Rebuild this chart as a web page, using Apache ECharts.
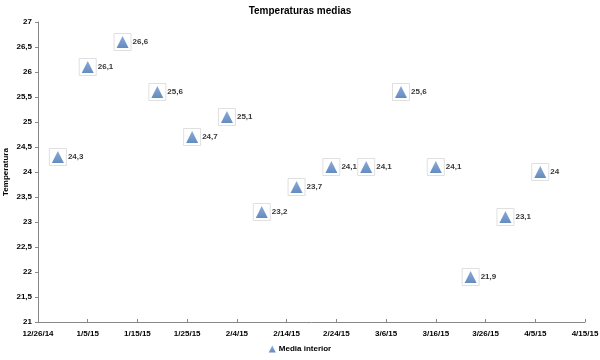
<!DOCTYPE html>
<html>
<head>
<meta charset="utf-8">
<script src="https://cdn.jsdelivr.net/npm/echarts@6/dist/echarts.min.js"></script>
<style>html,body{margin:0;padding:0;background:#fff}#c{width:600px;height:360px}</style>
</head>
<body>
<div id="c"></div>
<script>
const dates = ['2014-12-30','2015-01-05','2015-01-12','2015-01-19','2015-01-26','2015-02-02','2015-02-09','2015-02-16','2015-02-23','2015-03-02','2015-03-09','2015-03-16','2015-03-23','2015-03-30','2015-04-06'];
const values = [24.3,26.1,26.6,25.6,24.7,25.1,23.2,23.7,24.1,24.1,25.6,24.1,21.9,23.1,24.0];
const seriesName = 'Media interior';
const title = 'Temperaturas medias';
const yName = 'Temperatura';
const xMin = '2014-12-26', xMax = '2015-04-15';

const toMs = s => Date.parse(s + 'T00:00:00Z');
const DAY = 86400000;
const pts = dates.map((d, i) => [toMs(d), values[i]]);
const fmtComma = v => String(+v.toFixed(1)).replace('.', ',');
const fmtDate = v => { const d = new Date(v); return (d.getUTCMonth()+1) + '/' + d.getUTCDate() + '/' + String(d.getUTCFullYear()).slice(2); };
const FONT = '"Liberation Sans", Arial, sans-serif';

const chart = echarts.init(document.getElementById('c'));
chart.setOption({
  animation: false,
  backgroundColor: '#fff',
  title: { text: title, left: 'center', top: 1, textStyle: { fontFamily: FONT, fontSize: 10, fontWeight: 'bold', color: '#000' } },
  grid: { left: 38, right: 15, top: 22, bottom: 38, containLabel: false, outerBoundsMode: 'none' },
  legend: {
    bottom: 2, left: 'center', itemWidth: 7, itemHeight: 7, itemGap: 2,
    data: [{ name: seriesName, icon: 'triangle' }],
    textStyle: { fontFamily: FONT, fontSize: 8, fontWeight: 'bold', color: '#000', padding: [0,0,0,-2] }
  },
  xAxis: {
    type: 'value', min: toMs(xMin), max: toMs(xMax), interval: 10 * DAY,
    splitLine: { show: false },
    axisLine: { lineStyle: { color: '#888', width: 1 } },
    axisTick: { inside: true, length: 3, lineStyle: { color: '#888' } },
    axisLabel: { formatter: fmtDate, fontFamily: FONT, fontSize: 8, fontWeight: 'bold', color: '#000', margin: 8 }
  },
  yAxis: {
    type: 'value', min: 21, max: 27, interval: 0.5,
    name: yName, nameLocation: 'middle', nameGap: 28, nameRotate: 90, nameMoveOverlap: false,
    nameTextStyle: { fontFamily: FONT, fontSize: 8, fontWeight: 'bold', color: '#000' },
    splitLine: { show: false },
    axisLine: { show: true, lineStyle: { color: '#888', width: 1 } },
    axisTick: { show: true, length: 3, lineStyle: { color: '#888' } },
    axisLabel: { formatter: fmtComma, fontFamily: FONT, fontSize: 8, fontWeight: 'bold', color: '#000', margin: 6 }
  },
  series: [
    {
      type: 'scatter', name: 'box', data: pts, symbol: 'rect', symbolSize: 17, silent: true,
      itemStyle: { color: '#fff', borderColor: '#d8d8d8', borderWidth: 1 }, z: 1
    },
    {
      type: 'scatter', name: seriesName, data: pts, symbol: 'triangle', symbolSize: [12, 12], z: 2,
      itemStyle: { color: new echarts.graphic.LinearGradient(0,0,0,1,[{offset:0,color:'#6a95cf'},{offset:1,color:'#3f6fae'}]) },
      label: { show: true, position: 'right', distance: 4, formatter: p => fmtComma(p.value[1]), fontFamily: FONT, fontSize: 8, fontWeight: 'bold', color: '#000' }
    }
  ]
});
</script>
</body>
</html>
